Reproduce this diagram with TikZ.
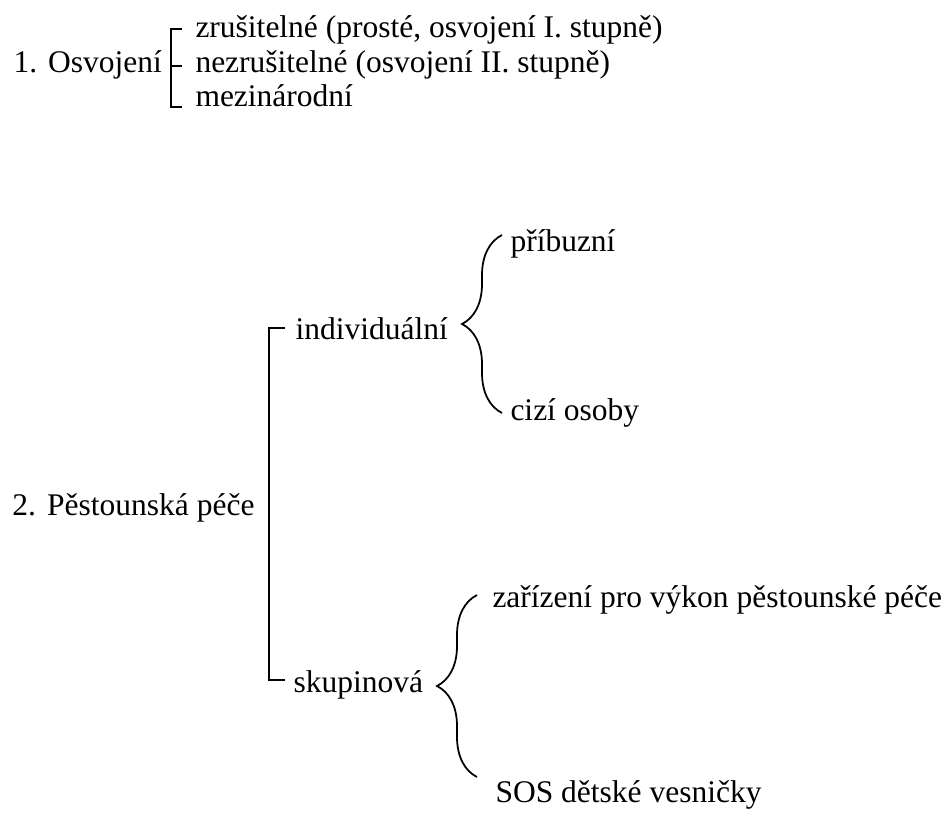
\documentclass[tikz,border=0pt]{standalone}
\usepackage{fontspec}
\setmainfont{Liberation Serif}
\usetikzlibrary{decorations.pathreplacing}
\tikzset{%
  txt/.style={anchor=base west,inner sep=0pt,font=\fontsize{12.6}{14}\selectfont},
  bar/.style={line width=0.7pt},
  curly/.style={line width=0.7pt,decorate,decoration={brace,amplitude=16pt}}
}
\begin{document}
\begin{tikzpicture}[x=0.4pt,y=-0.4pt]
  \useasboundingbox (0,0) rectangle (950,812);
  % Osvojeni
  \node[txt] (osv) at (13,73) {1.\hspace{0.35em}Osvojení};
  \node[txt] (zru) at (195,38) {zrušitelné (prosté, osvojení I. stupně)};
  \node[txt] (nez) at (195,73) {nezrušitelné (osvojení II. stupně)};
  \node[txt] (mez) at (195,107) {mezinárodní};
  \coordinate (o0) at (171,29);
  \coordinate (o1) at (171,66);
  \coordinate (o2) at (171,107);
  \draw[bar] ([xshift=4.4pt]o0) -- (o0) -- (o2) -- ([xshift=4.4pt]o2);
  \draw[bar] (o1) -- ([xshift=4.4pt]o1);
  % Pestounska pece
  \node[txt] (pes) at (12,515) {2.\hspace{0.35em}Pěstounská péče};
  \node[txt] (ind) at (295,339) {individuální};
  \node[txt] (sku) at (293,692) {skupinová};
  \coordinate (p0) at (269,328);
  \coordinate (p1) at (269,680);
  \draw[bar] ([xshift=6.4pt]p0) -- (p0) -- (p1) -- ([xshift=6.4pt]p1);
  % individualni
  \node[txt] (pri) at (510,251) {příbuzní};
  \node[txt] (ciz) at (510,420) {cizí osoby};
  \coordinate (i0) at (502,413);
  \coordinate (i1) at (502,235);
  \draw[curly] (i0) -- (i1);
  % skupinova
  \node[txt] (zar) at (492,607) {zařízení pro výkon pěstounské péče};
  \node[txt] (sos) at (495,802) {SOS dětské vesničky};
  \coordinate (s0) at (477,777);
  \coordinate (s1) at (477,595);
  \draw[curly] (s0) -- (s1);
\end{tikzpicture}
\end{document}
